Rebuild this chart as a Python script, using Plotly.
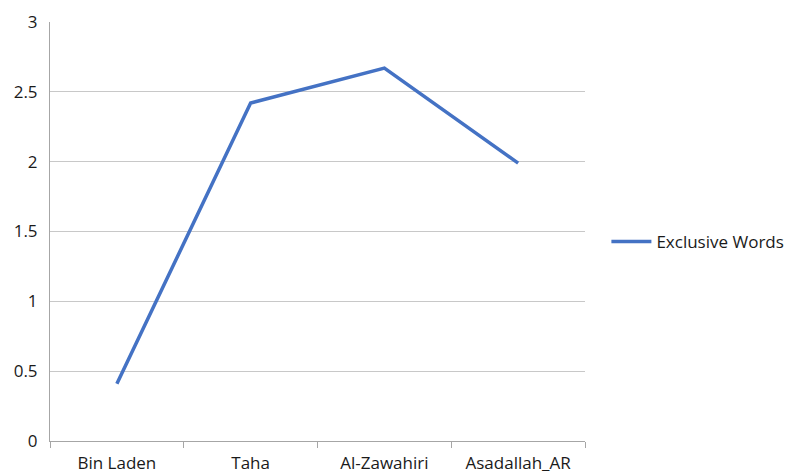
import plotly.graph_objects as go

categories = ["Bin Laden", "Taha", "Al-Zawahiri", "Asadallah_AR"]
exclusive_words = [0.41, 2.42, 2.67, 1.99]
y_ticks = [0, 0.5, 1, 1.5, 2, 2.5, 3]
y_tick_labels = ["0", "0.5", "1", "1.5", "2", "2.5", "3"]

fig = go.Figure()
fig.add_trace(go.Scatter(
    x=categories, y=exclusive_words, mode="lines", name="Exclusive Words",
    line=dict(color="#4472C4", width=3.5),
))

font_family = "Open Sans, Liberation Sans, sans-serif"
fig.update_layout(
    width=803, height=474,
    margin=dict(l=42, r=226, t=14, b=41),
    paper_bgcolor="white", plot_bgcolor="white",
    font=dict(family=font_family, size=17, color="#1a1a1a"),
    showlegend=True,
    legend=dict(x=1.04, y=0.475, xanchor="left", yanchor="middle",
                font=dict(size=17, color="#1a1a1a"),
                itemwidth=40, bgcolor="rgba(0,0,0,0)"),
    xaxis=dict(
        type="category", showgrid=False, showline=True, linecolor="#a6a6a6",
        linewidth=1, ticks="outside", tickson="boundaries", ticklen=6,
        tickcolor="#a6a6a6", range=[-0.5, 3.5], zeroline=False,
        tickfont=dict(size=17), ticklabelstandoff=7, automargin=False,
    ),
    yaxis=dict(
        range=[0, 3], tickvals=y_ticks, ticktext=y_tick_labels,
        showgrid=True, gridcolor="#c8c8c8", gridwidth=1,
        showline=True, linecolor="#a6a6a6", linewidth=1,
        ticks="", ticklabelstandoff=8, zeroline=False,
        tickfont=dict(size=17), automargin=False,
    ),
)

fig.write_html("out.html")
